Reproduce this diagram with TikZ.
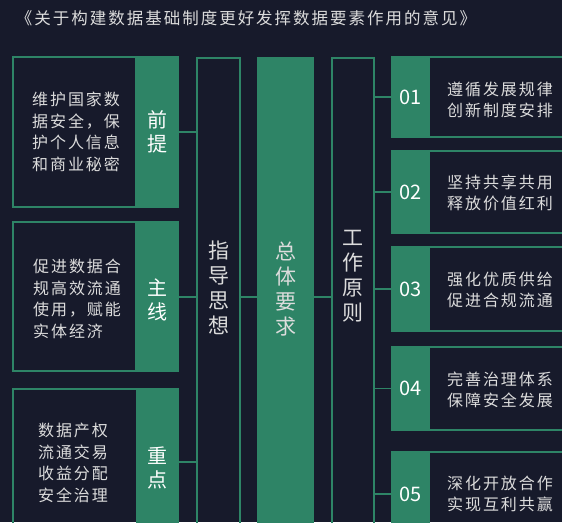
\documentclass[tikz,border=0pt]{standalone}
\usepackage{fontspec}
\setmainfont{Noto Sans CJK SC}
\newfontfamily\cjkspaced[LetterSpace=12]{Noto Sans CJK SC}
\definecolor{bgnavy}{HTML}{171A2B}
\definecolor{leafgreen}{HTML}{2E8466}
\definecolor{softwhite}{HTML}{DCDCDC}

\begin{document}
\begin{tikzpicture}[x=1pt,y=-1pt,
	frame/.style={draw=leafgreen,line width=1.5pt,inner sep=0pt},
	tab/.style={fill=leafgreen,draw=leafgreen,line width=1.5pt,inner sep=0pt,text=white,
		align=center,font=\fontsize{20}{25}\selectfont},
	tablabel/.style={text=white,align=center,font=\fontsize{20}{24}\selectfont},
	body/.style={text=softwhite,align=left,font=\cjkspaced\fontsize{16}{21.7}\selectfont},
	cardtext/.style={text=softwhite,align=center,font=\cjkspaced\fontsize{16}{21}\selectfont},
	coltext/.style={text=softwhite,align=center,font=\fontsize{21}{25}\selectfont},
	link/.style={draw=leafgreen,line width=1.5pt}]
	\fill[bgnavy] (0,0) rectangle (562,522);
	\useasboundingbox (0,0) rectangle (562,522);
	\clip (0,0) rectangle (562,522);
	% title
	\node[text=softwhite,font=\cjkspaced\fontsize{16.5}{20}\selectfont] (title) at (246,18)
		{《关于构建数据基础制度更好发挥数据要素作用的意见》};
	% left boxes
	\node[frame,minimum width=165pt,minimum height=150pt] (premise) at (95.5,132) {};
	\node[tab,minimum width=42pt,minimum height=150pt] (premiseT) at (157,132) {};
	\node[tablabel] (premiseL) at (157,132) {前\\提};
	\node[body] (premiseX) at (76,132) {维护国家数\\据安全，保\\护个人信息\\和商业秘密};
	\node[frame,minimum width=165pt,minimum height=149pt] (mainline) at (95.5,296.5) {};
	\node[tab,minimum width=42pt,minimum height=149pt] (mainlineT) at (157,296.5) {};
	\node[tablabel] (mainlineL) at (157,300) {主\\线};
	\node[body] (mainlineX) at (77,299) {促进数据合\\规高效流通\\使用，赋能\\实体经济};
	\node[frame,minimum width=165pt,minimum height=160pt] (focus) at (95.5,469) {};
	\node[tab,minimum width=41pt,minimum height=160pt] (focusT) at (157.5,469) {};
	\node[tablabel] (focusL) at (157.5,468) {重\\点};
	\node[body] (focusX) at (73,463) {数据产权\\流通交易\\收益分配\\安全治理};
	% three columns
	\node[frame,minimum width=43pt,minimum height=480pt,anchor=north] (guide) at (218.5,57) {};
	\node[coltext] (guideT) at (218.5,288) {指\\导\\思\\想};
	\node[fill=leafgreen,minimum width=57pt,minimum height=480pt,anchor=north,inner sep=0pt] (overall) at (285.5,57) {};
	\node[coltext] (overallT) at (285.5,289) {总\\体\\要\\求};
	\node[frame,minimum width=42pt,minimum height=480pt,anchor=north] (work) at (353,57) {};
	\node[coltext] (workT) at (353,276) {工\\作\\原\\则};
	\coordinate (midline) at (0,297);
	\draw[link] (premiseT.east) -- (premiseT.east -| guide.west);
	\draw[link] (mainlineT.east |- midline) -- (guide.west |- midline);
	\draw[link] (focusT.east |- 0,462) -- (guide.west |- 0,462);
	\draw[link] (guide.east |- midline) -- (overall.west |- midline);
	\draw[link] (overall.east |- midline) -- (work.west |- midline);
	% right cards
	\node[frame,minimum width=183pt,minimum height=80pt] (ruleA) at (483.5,97) {};
	\node[tab,minimum width=37pt,minimum height=80pt] (ruleAN) at (410.5,97) {01};
	\node[cardtext] (ruleAX) at (500,99.5) {遵循发展规律\\创新制度安排};
	\node[frame,minimum width=183pt,minimum height=82pt] (ruleB) at (483.5,192) {};
	\node[tab,minimum width=37pt,minimum height=82pt] (ruleBN) at (410.5,192) {02};
	\node[cardtext] (ruleBX) at (500,193) {坚持共享共用\\释放价值红利};
	\node[frame,minimum width=183pt,minimum height=84pt] (ruleC) at (483.5,289) {};
	\node[tab,minimum width=37pt,minimum height=84pt] (ruleCN) at (410.5,289) {03};
	\node[cardtext] (ruleCX) at (500,290) {强化优质供给\\促进合规流通};
	\node[frame,minimum width=183pt,minimum height=83pt] (ruleD) at (483.5,388.5) {};
	\node[tab,minimum width=37pt,minimum height=83pt] (ruleDN) at (410.5,388.5) {04};
	\node[cardtext] (ruleDX) at (500,389.5) {完善治理体系\\保障安全发展};
	\node[frame,minimum width=183pt,minimum height=90pt] (ruleE) at (483.5,497) {};
	\node[tab,minimum width=37pt,minimum height=90pt] (ruleEN) at (410.5,497) {};
	\node[tablabel] (ruleENo) at (410.5,494) {05};
	\node[cardtext] (ruleEX) at (500,494) {深化开放合作\\实现互利共赢};
	\draw[link] (work.east |- ruleAN) -- (ruleAN.west);
	\draw[link] (work.east |- ruleBN) -- (ruleBN.west);
	\draw[link] (work.east |- ruleCN) -- (ruleCN.west);
	\draw[link] (work.east |- ruleDN) -- (ruleDN.west);
	\draw[link] (work.east |- ruleENo) -- (ruleEN.west |- ruleENo);
\end{tikzpicture}
\end{document}
